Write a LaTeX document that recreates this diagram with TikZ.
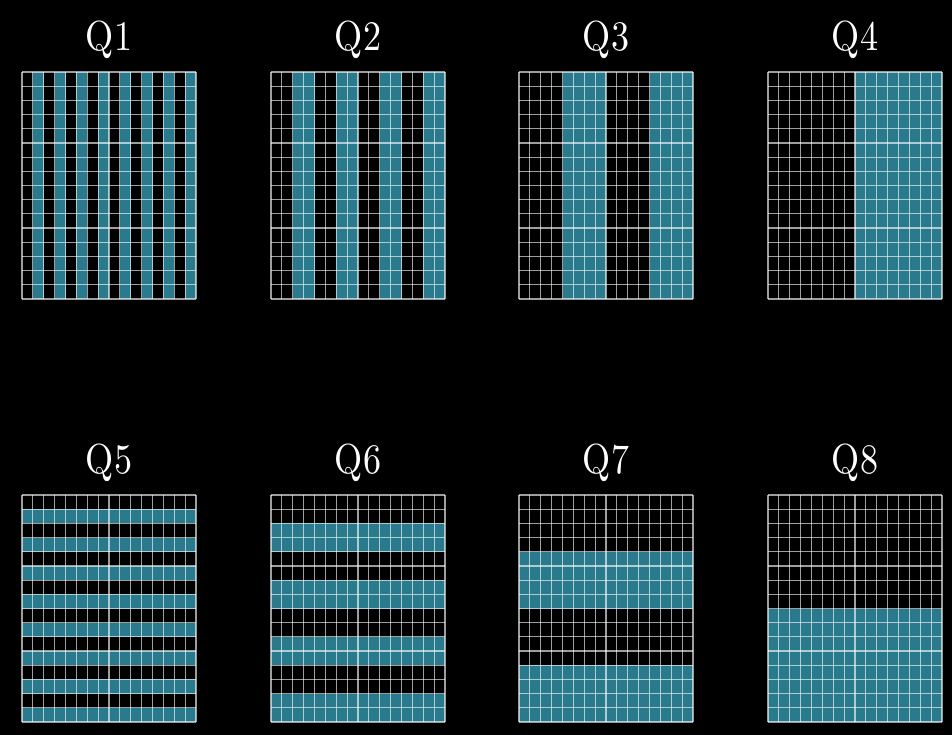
\documentclass[tikz,border=0pt]{standalone}
\usepackage{fontspec}
\usepackage{graphicx}
\newfontfamily\lmten{lmroman10-regular.otf}
\definecolor{cellblue}{RGB}{40,122,140}
\tikzset{
  gridline/.style={draw=white, draw opacity=0.62, line width=1.2pt},
  bluecell/.style={fill=cellblue},
  lbl/.style={text=white, font=\lmten\fontsize{42}{50}\selectfont, inner sep=0pt, anchor=base}
}
\begin{document}
\begin{tikzpicture}[x=1pt,y=-1pt]
\fill[black] (0,0) rectangle (952,735);
\useasboundingbox (0,0) rectangle (952,735);
\def\cw{10.875}
\def\ch{14.1875}
% top row: column stripes
\foreach \k/\xo in {1/22,2/271,3/519,4/768} {
  \pgfmathtruncatemacro\g{2^(\k-1)}
  \pgfmathtruncatemacro\n{8/\g}
  \foreach \s in {1,...,\n} {
    \fill[bluecell] ({\xo+(2*\s-1)*\g*\cw},72) rectangle ({\xo+2*\s*\g*\cw},299);
  }
  \foreach \i in {0,...,16} {
    \draw[gridline] ({\xo+\i*\cw},72) -- ({\xo+\i*\cw},299);
    \draw[gridline] (\xo,{72+\i*\ch}) -- ({\xo+174},{72+\i*\ch});
  }
  \node[lbl] (q\k) at ({\xo+87},50.7) {\scalebox{0.86}[1]{Q\k}};
}
% bottom row: row stripes
\foreach \k/\xo in {5/22,6/271,7/519,8/768} {
  \pgfmathtruncatemacro\g{2^(\k-5)}
  \pgfmathtruncatemacro\n{8/\g}
  \foreach \s in {1,...,\n} {
    \fill[bluecell] (\xo,{495+(2*\s-1)*\g*\ch}) rectangle ({\xo+174},{495+2*\s*\g*\ch});
  }
  \foreach \i in {0,...,16} {
    \draw[gridline] ({\xo+\i*\cw},495) -- ({\xo+\i*\cw},722);
    \draw[gridline] (\xo,{495+\i*\ch}) -- ({\xo+174},{495+\i*\ch});
  }
  \node[lbl] (q\k) at ({\xo+87},473.7) {\scalebox{0.86}[1]{Q\k}};
}
\end{tikzpicture}
\end{document}
